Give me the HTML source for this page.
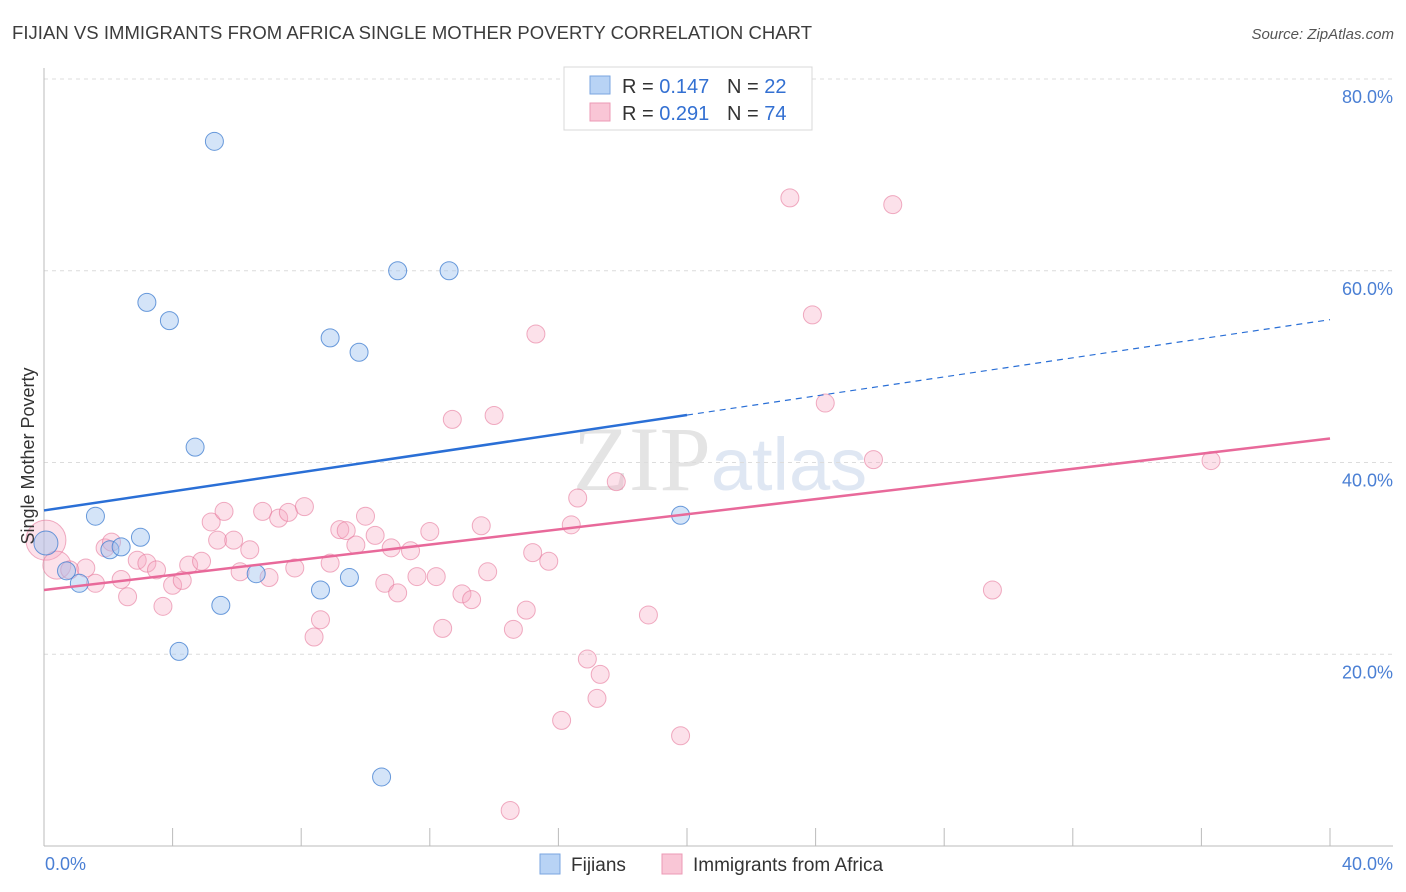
<!DOCTYPE html>
<html><head><meta charset="utf-8"><style>
body{margin:0;background:#fff;font-family:"Liberation Sans",sans-serif}
svg{display:block}
</style></head><body>
<svg width="1406" height="892" xmlns="http://www.w3.org/2000/svg">
<text x="12" y="39" font-size="18.5" fill="#3c3c3c" textLength="800">FIJIAN VS IMMIGRANTS FROM AFRICA SINGLE MOTHER POVERTY CORRELATION CHART</text>
<text x="1394" y="39" font-size="15" fill="#555" text-anchor="end" font-style="italic">Source: ZipAtlas.com</text>
<text x="720" y="490" font-size="92" fill="#e4e4e4" text-anchor="middle" font-family="Liberation Serif">ZIP<tspan fill="#dfe7f3" font-family="Liberation Sans" font-size="74">atlas</tspan></text>
<g id="grid"></g>
<g id="axes"></g>
<g id="marks"></g>
<text transform="translate(34,456) rotate(-90)" font-size="18" fill="#333" text-anchor="middle">Single Mother Poverty</text>
<text x="45" y="870" font-size="18" fill="#4a7fd4">0.0%</text>
<text x="1393" y="870" font-size="18" fill="#4a7fd4" text-anchor="end">40.0%</text>
<g>
<rect x="564" y="67" width="248" height="63" fill="#fff" stroke="#d8d8d8"/>
<rect x="590" y="76" width="20" height="18" fill="#b8d3f5" stroke="#7aa6e0"/>
<text x="622" y="93" font-size="20" fill="#333">R = <tspan fill="#3370d2">0.147</tspan></text>
<text x="727" y="93" font-size="20" fill="#333">N = <tspan fill="#3370d2">22</tspan></text>
<rect x="590" y="103" width="20" height="18" fill="#f9c6d6" stroke="#ec9ab5"/>
<text x="622" y="120" font-size="20" fill="#333">R = <tspan fill="#3370d2">0.291</tspan></text>
<text x="727" y="120" font-size="20" fill="#333">N = <tspan fill="#3370d2">74</tspan></text>
</g>
<g>
<rect x="540" y="854" width="20" height="20" fill="#b8d3f5" stroke="#7aa6e0"/>
<text x="571" y="871" font-size="19" fill="#333">Fijians</text>
<rect x="662" y="854" width="20" height="20" fill="#f9c6d6" stroke="#ec9ab5"/>
<text x="693" y="871" font-size="19" fill="#333">Immigrants from Africa</text>
</g>
</svg>
<script>
const yTicks=[20,40,60,80];
const yTickLabels=["20.0%","40.0%","60.0%","80.0%"];
const xTicks=[0,4,8,12,16,20,24,28,32,36,40];
const fijiX=[0.06,0.7,1.1,1.6,2.05,2.4,3.0,3.2,3.9,4.2,4.7,5.3,5.5,6.6,8.6,8.9,9.5,9.8,10.5,11.0,12.6,19.8];
const fijiY=[31.6,28.7,27.4,34.4,30.9,31.2,32.2,56.7,54.8,20.3,41.6,73.5,25.1,28.4,26.7,53.0,28.0,51.5,7.2,60.0,60.0,34.5];
const afrX=[0.06,0.4,0.8,1.3,1.6,1.9,2.1,2.4,2.6,2.9,3.2,3.5,3.7,4.0,4.3,4.5,4.9,5.2,5.4,5.6,5.9,6.1,6.4,6.8,7.0,7.3,7.6,7.8,8.1,8.4,8.6,8.9,9.2,9.4,9.7,10.0,10.3,10.6,10.8,11.0,11.4,11.6,12.0,12.2,12.4,12.7,13.0,13.3,13.6,13.8,14.0,14.6,15.0,15.2,15.3,15.7,16.1,16.4,16.6,16.9,17.2,17.3,17.8,18.8,19.8,14.5,23.2,23.9,24.3,25.8,26.4,29.5,36.3];
const afrY=[31.9,29.3,28.8,29.0,27.4,31.1,31.7,27.8,26.0,29.8,29.5,28.8,25.0,27.2,27.7,29.3,29.7,33.8,31.9,34.9,31.9,28.6,30.9,34.9,28.0,34.2,34.8,29.0,35.4,21.8,23.6,29.5,33.0,32.9,31.4,34.4,32.4,27.4,31.1,26.4,30.8,28.1,32.8,28.1,22.7,44.5,26.3,25.7,33.4,28.6,44.9,22.6,24.6,30.6,53.4,29.7,13.1,33.5,36.3,19.5,15.4,17.9,38.0,24.1,11.5,3.7,67.6,55.4,46.2,40.3,66.9,26.7,40.2];
const fijiTrend=[35.0,54.9];
const afrTrend=[26.7,42.5];
const NS="http://www.w3.org/2000/svg";
const X=v=>44+v/40*1286;
const Y=v=>846-v/80*767;
function mk(t,a,p){const e=document.createElementNS(NS,t);for(const k in a)e.setAttribute(k,a[k]);p.appendChild(e);return e;}
const grid=document.getElementById('grid'),axes=document.getElementById('axes'),marks=document.getElementById('marks');
yTicks.forEach((t,i)=>{
 const l=mk('line',{x1:44,x2:1393,y1:Y(t),y2:Y(t),stroke:'#dcdcdc','stroke-dasharray':'4,4'},grid);
 
 
 const tx=mk('text',{x:1393,y:Y(t)+24,'font-size':18,fill:'#4a7fd4','text-anchor':'end'},grid);
 tx.textContent=yTickLabels[i];
 
 
});
const ax=mk('line',{x1:44,x2:44,y1:68,y2:846,stroke:'#bbb'},axes);


const bx=mk('line',{x1:44,x2:1393,y1:846,y2:846,stroke:'#bbb'},axes);


xTicks.forEach(t=>{
 const l=mk('line',{x1:X(t),x2:X(t),y1:828,y2:846,stroke:'#bbb'},axes);
 
 
});
function dot(x,y,r,fill,stroke,name){
 const c=mk('circle',{cx:X(x),cy:Y(y),r:r,fill:fill,stroke:stroke,'stroke-width':1},marks);
 
 
}
afrX.forEach((x,i)=>{dot(x,afrY[i],i==0?20:(i==1?14:9),'rgba(246,170,195,0.35)','rgba(230,120,155,0.6)','point-africa');});
fijiX.forEach((x,i)=>{dot(x,fijiY[i],i==0?12:9,'rgba(160,196,240,0.45)','rgba(70,130,210,0.8)','point-fijians');});
const fx=20;
const fm=(fijiTrend[1]-fijiTrend[0])/40;
const t1=mk('line',{x1:X(0),y1:Y(fijiTrend[0]),x2:X(fx),y2:Y(fijiTrend[0]+fm*fx),stroke:'#2a6fd6','stroke-width':2.5},marks);


const t2=mk('line',{x1:X(fx),y1:Y(fijiTrend[0]+fm*fx),x2:X(40),y2:Y(fijiTrend[1]),stroke:'#2a6fd6','stroke-width':1.2,'stroke-dasharray':'6,5'},marks);


const t3=mk('line',{x1:X(0),y1:Y(afrTrend[0]),x2:X(40),y2:Y(afrTrend[1]),stroke:'#e8699a','stroke-width':2.5},marks);


</script>
</body></html>
